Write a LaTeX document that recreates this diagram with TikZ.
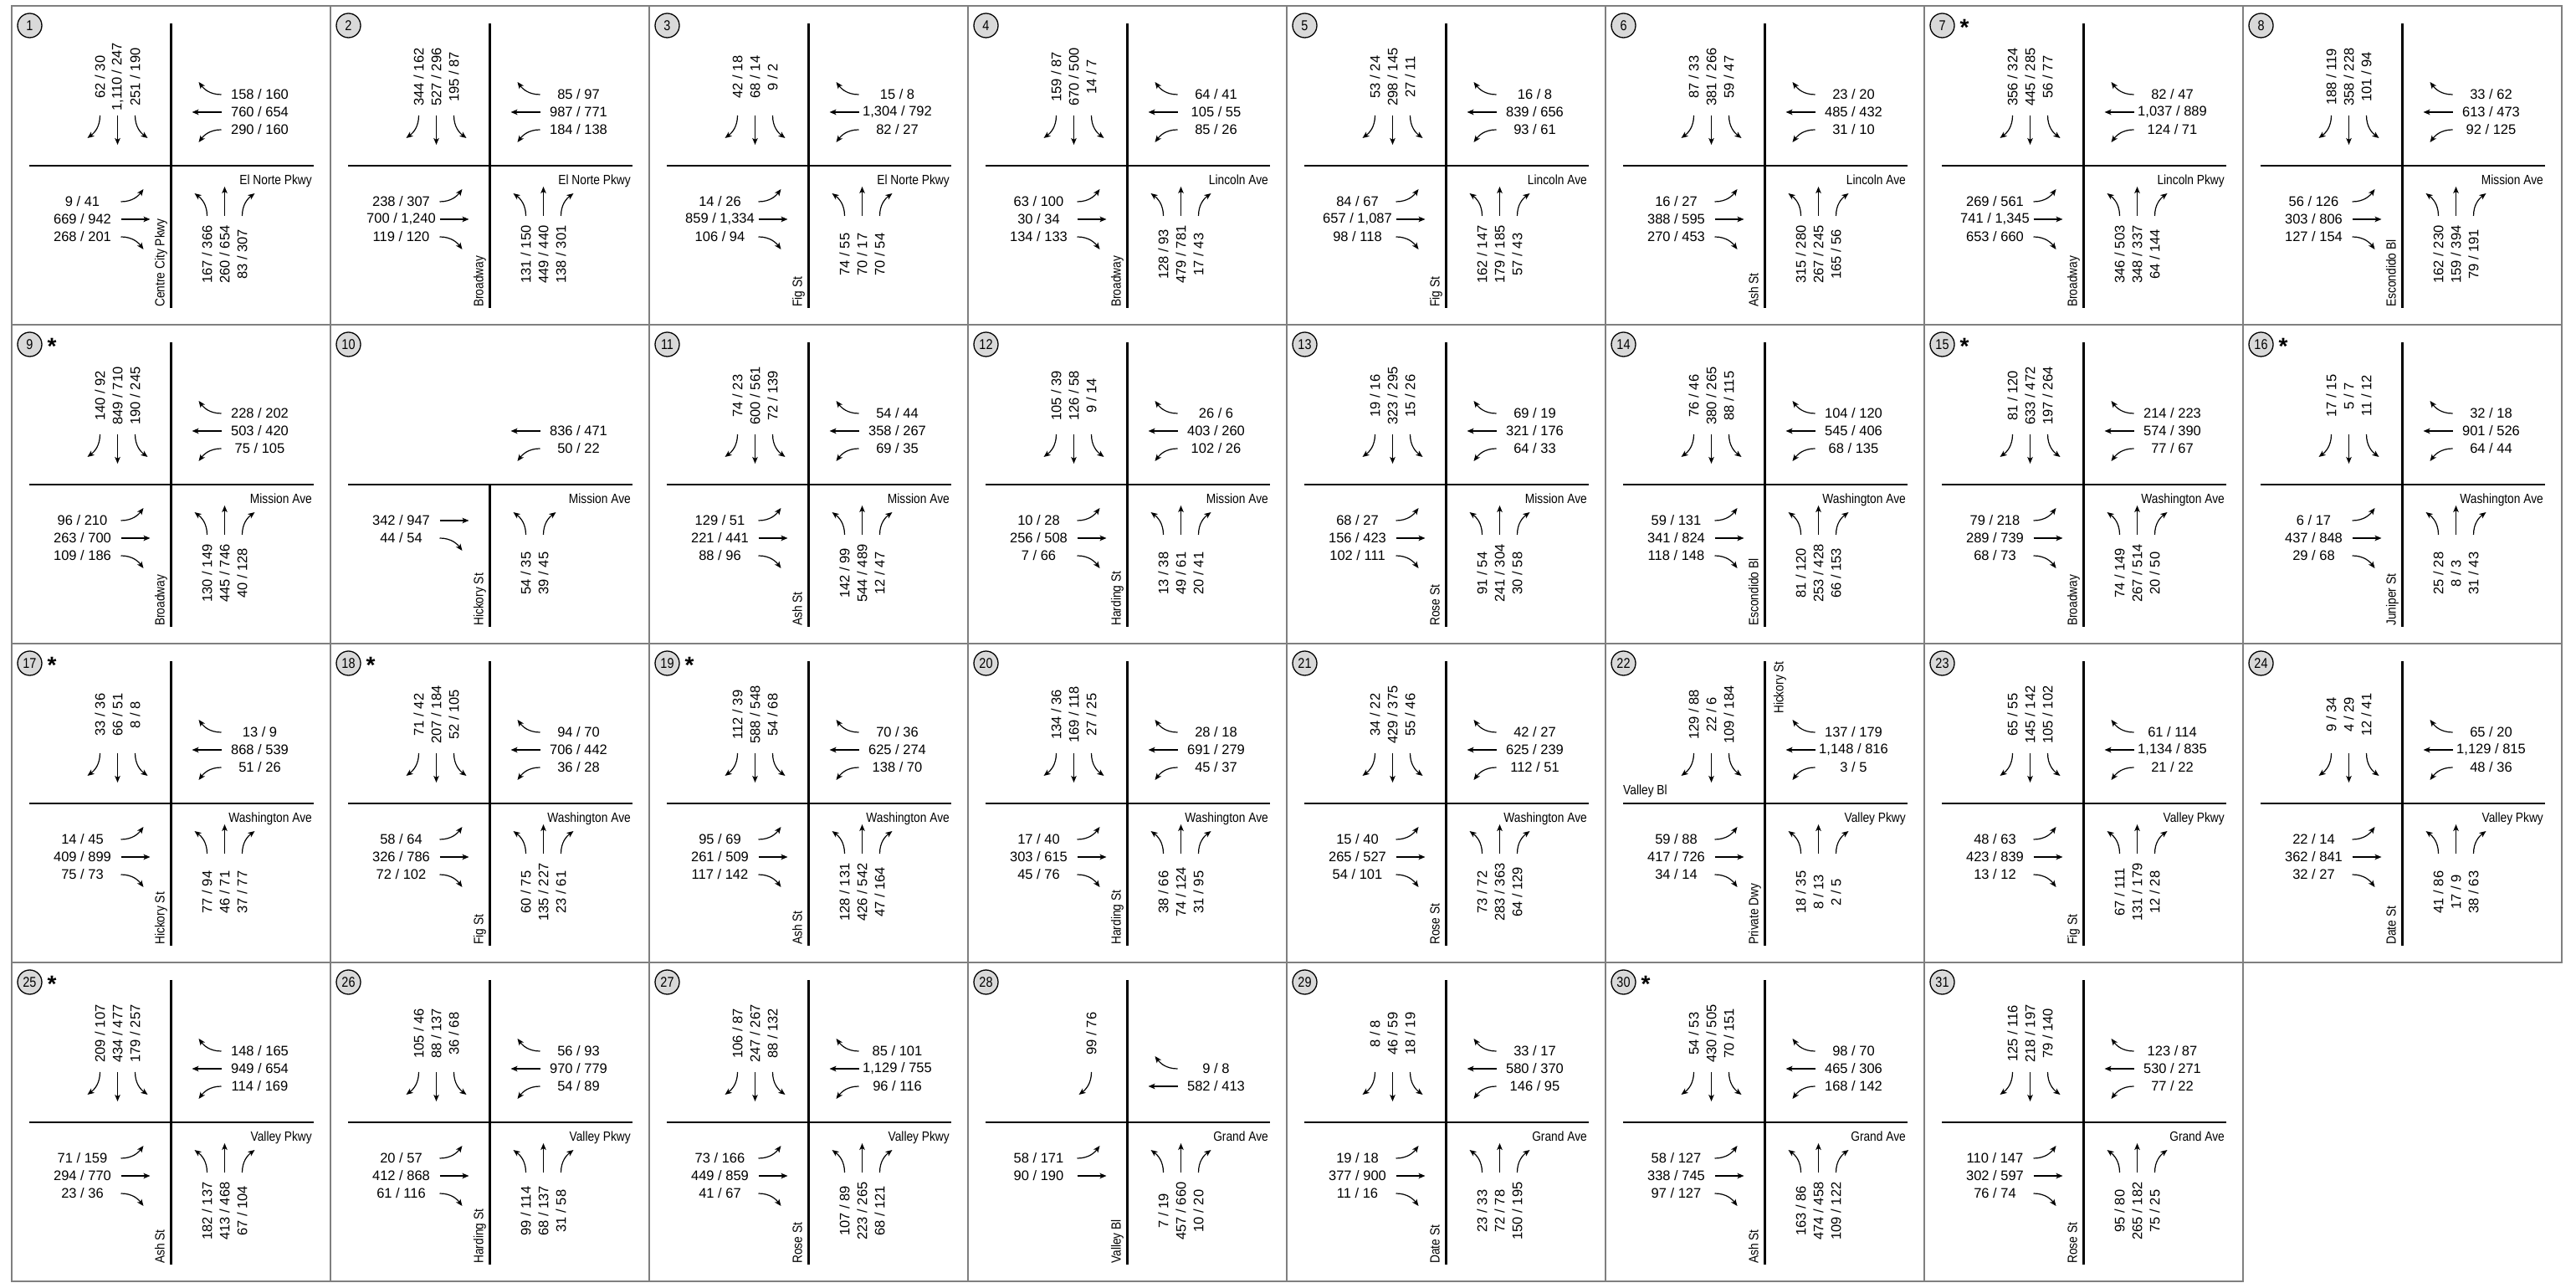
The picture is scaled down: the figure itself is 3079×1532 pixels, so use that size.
\documentclass[tikz,border=0pt]{standalone}
\usepackage{fontspec}
\setmainfont{Liberation Sans}
\newfontfamily\narrowfont[FakeStretch=0.86]{Liberation Sans}
\newfontfamily\circfont[FakeStretch=0.85]{Liberation Sans}
\usetikzlibrary{arrows.meta}
\definecolor{framegray}{HTML}{7F7F7F}
\definecolor{circfill}{HTML}{D9D9D9}
\tikzset{
  frame/.style={draw=framegray, line width=1.8pt},
  road/.style={line width=2.6pt, line cap=butt},
  mv/.style={line width=1.2pt, -{Stealth[length=8pt,width=6.5pt,inset=2pt]}},
  vol/.style={inner sep=0pt, font=\fontsize{16.5}{20}\selectfont},
  street/.style={inner sep=0pt, font=\narrowfont\fontsize{16}{19}\selectfont},
  idcirc/.style={circle, draw, line width=1.3pt, fill=circfill, minimum size=29pt, inner sep=0pt, font=\circfont\fontsize{17}{20}\selectfont},
  starmark/.style={inner sep=0pt, anchor=north, font=\bfseries\fontsize{28}{30}\selectfont},
}
% panel frame, id circle, centre coordinate
\newcommand\Pnl[3]{%
  \def\pn{#3}%
  \pgfmathsetmacro\pl{14+381*#1}%
  \pgfmathsetmacro\ptp{1525-381*#2}%
  \draw[frame] (\pl,\ptp) rectangle ++(381,-381);
  \node[idcirc] (p#3id) at (\pl+21.5,\ptp-23.5) {#3};
  \coordinate (p#3c) at (\pl+190.5,\ptp-191);
}
\newcommand\Star{\node[starmark] (p\pn star) at (\pl+48,\ptp-16) {*};}
\newcommand\Open[3]{\Pnl{#1}{#2}{#3}\begin{scope}[shift={(p#3c)}]}
\newcommand\Close{\end{scope}}
% roads
\newcommand\Xroads{\draw[road] (-169.5,0) -- (170.5,0); \draw[road] (0,170) -- (0,-170);}
\newcommand\Troads{\draw[road] (-169.5,0) -- (170.5,0); \draw[road] (0,0) -- (0,-170);}
% arrows, drawn for the southbound approach and rotated
\newcommand\arrT[2]{\draw[mv,rotate=#1] (-#2,60) -- (-#2,25);}
\newcommand\arrR[2]{\draw[mv,rotate=#1] (-#2,60) .. controls (-#2,46) and (-#2-7,39) .. (-#2-15,33);}
\newcommand\arrL[2]{\draw[mv,rotate=#1] (-#2,60) .. controls (-#2,46) and (-#2+7,39) .. (-#2+15,33);}
\def\rotS{0}\def\rotE{90}\def\rotN{180}\def\rotW{270}
% labels
\newcommand\labS[3]{\node[vol,rotate=90] (#3) at (-#1,106) {#2};}
\newcommand\labN[3]{\node[vol,rotate=90] (#3) at (#1,-106) {#2};}
\newcommand\labE[3]{\node[vol] (#3) at (-106,-#1) {#2};}
\newcommand\labW[3]{\node[vol] (#3) at (106,#1) {#2};}
% movement: approach, lane, type, text
\newcommand\Mv[4]{%
  \pgfmathsetmacro\off{22+21*#2}%
  \edef\rt{\csname rot#1\endcsname}%
  \csname arr#3\endcsname{\rt}{\off}%
  \csname lab#1\endcsname{\off}{#4}{p\pn#1#3}%
}
\newcommand\SB[3]{\Mv S3R{#1}\Mv S2T{#2}\Mv S1L{#3}}
\newcommand\WB[3]{\Mv W3R{#1}\Mv W2T{#2}\Mv W1L{#3}}
\newcommand\EB[3]{\Mv E1L{#1}\Mv E2T{#2}\Mv E3R{#3}}
\newcommand\NB[3]{\Mv N1L{#1}\Mv N2T{#2}\Mv N3R{#3}}
\newcommand\Names[2]{%
  \node[street,anchor=base east] (p\pn ew) at (168.5,-23) {#1};
  \node[street,anchor=base west,rotate=90] (p\pn ns) at (-8,-169) {#2};}
\begin{document}
\begin{tikzpicture}[x=1pt,y=1pt]
\useasboundingbox (0,0) rectangle (3079,1532);
\fill[white] (0,0) rectangle (3079,1532);
% ---------- row 1
\Open{0}{0}{1}\Xroads
 \SB{62 / 30}{1,110 / 247}{251 / 190}\WB{158 / 160}{760 / 654}{290 / 160}
 \EB{9 / 41}{669 / 942}{268 / 201}\NB{167 / 366}{260 / 654}{83 / 307}
 \Names{El Norte Pkwy}{Centre City Pkwy}\Close
\Open{1}{0}{2}\Xroads
 \SB{344 / 162}{527 / 296}{195 / 87}\WB{85 / 97}{987 / 771}{184 / 138}
 \EB{238 / 307}{700 / 1,240}{119 / 120}\NB{131 / 150}{449 / 440}{138 / 301}
 \Names{El Norte Pkwy}{Broadway}\Close
\Open{2}{0}{3}\Xroads
 \SB{42 / 18}{68 / 14}{9 / 2}\WB{15 / 8}{1,304 / 792}{82 / 27}
 \EB{14 / 26}{859 / 1,334}{106 / 94}\NB{74 / 55}{70 / 17}{70 / 54}
 \Names{El Norte Pkwy}{Fig St}\Close
\Open{3}{0}{4}\Xroads
 \SB{159 / 87}{670 / 500}{14 / 7}\WB{64 / 41}{105 / 55}{85 / 26}
 \EB{63 / 100}{30 / 34}{134 / 133}\NB{128 / 93}{479 / 781}{17 / 43}
 \Names{Lincoln Ave}{Broadway}\Close
\Open{4}{0}{5}\Xroads
 \SB{53 / 24}{298 / 145}{27 / 11}\WB{16 / 8}{839 / 656}{93 / 61}
 \EB{84 / 67}{657 / 1,087}{98 / 118}\NB{162 / 147}{179 / 185}{57 / 43}
 \Names{Lincoln Ave}{Fig St}\Close
\Open{5}{0}{6}\Xroads
 \SB{87 / 33}{381 / 266}{59 / 47}\WB{23 / 20}{485 / 432}{31 / 10}
 \EB{16 / 27}{388 / 595}{270 / 453}\NB{315 / 280}{267 / 245}{165 / 56}
 \Names{Lincoln Ave}{Ash St}\Close
\Open{6}{0}{7}\Xroads
 \SB{356 / 324}{445 / 285}{56 / 77}\WB{82 / 47}{1,037 / 889}{124 / 71}
 \EB{269 / 561}{741 / 1,345}{653 / 660}\NB{346 / 503}{348 / 337}{64 / 144}
 \Names{Lincoln Pkwy}{Broadway}\Close\Star
\Open{7}{0}{8}\Xroads
 \SB{188 / 119}{358 / 228}{101 / 94}\WB{33 / 62}{613 / 473}{92 / 125}
 \EB{56 / 126}{303 / 806}{127 / 154}\NB{162 / 230}{159 / 394}{79 / 191}
 \Names{Mission Ave}{Escondido Bl}\Close
% ---------- row 2
\Open{0}{1}{9}\Xroads
 \SB{140 / 92}{849 / 710}{190 / 245}\WB{228 / 202}{503 / 420}{75 / 105}
 \EB{96 / 210}{263 / 700}{109 / 186}\NB{130 / 149}{445 / 746}{40 / 128}
 \Names{Mission Ave}{Broadway}\Close\Star
\Open{1}{1}{10}\Troads
 \Mv W2T{836 / 471}\Mv W1L{50 / 22}
 \Mv E1T{342 / 947}\Mv E2R{44 / 54}
 \Mv N1L{54 / 35}\Mv N2R{39 / 45}
 \Names{Mission Ave}{Hickory St}\Close
\Open{2}{1}{11}\Xroads
 \SB{74 / 23}{600 / 561}{72 / 139}\WB{54 / 44}{358 / 267}{69 / 35}
 \EB{129 / 51}{221 / 441}{88 / 96}\NB{142 / 99}{544 / 489}{12 / 47}
 \Names{Mission Ave}{Ash St}\Close
\Open{3}{1}{12}\Xroads
 \SB{105 / 39}{126 / 58}{9 / 14}\WB{26 / 6}{403 / 260}{102 / 26}
 \EB{10 / 28}{256 / 508}{7 / 66}\NB{13 / 38}{49 / 61}{20 / 41}
 \Names{Mission Ave}{Harding St}\Close
\Open{4}{1}{13}\Xroads
 \SB{19 / 16}{323 / 295}{15 / 26}\WB{69 / 19}{321 / 176}{64 / 33}
 \EB{68 / 27}{156 / 423}{102 / 111}\NB{91 / 54}{241 / 304}{30 / 58}
 \Names{Mission Ave}{Rose St}\Close
\Open{5}{1}{14}\Xroads
 \SB{76 / 46}{380 / 265}{88 / 115}\WB{104 / 120}{545 / 406}{68 / 135}
 \EB{59 / 131}{341 / 824}{118 / 148}\NB{81 / 120}{253 / 428}{66 / 153}
 \Names{Washington Ave}{Escondido Bl}\Close
\Open{6}{1}{15}\Xroads
 \SB{81 / 120}{633 / 472}{197 / 264}\WB{214 / 223}{574 / 390}{77 / 67}
 \EB{79 / 218}{289 / 739}{68 / 73}\NB{74 / 149}{267 / 514}{20 / 50}
 \Names{Washington Ave}{Broadway}\Close\Star
\Open{7}{1}{16}\Xroads
 \SB{17 / 15}{5 / 7}{11 / 12}\WB{32 / 18}{901 / 526}{64 / 44}
 \EB{6 / 17}{437 / 848}{29 / 68}\NB{25 / 28}{8 / 3}{31 / 43}
 \Names{Washington Ave}{Juniper St}\Close\Star
% ---------- row 3
\Open{0}{2}{17}\Xroads
 \SB{33 / 36}{66 / 51}{8 / 8}\WB{13 / 9}{868 / 539}{51 / 26}
 \EB{14 / 45}{409 / 899}{75 / 73}\NB{77 / 94}{46 / 71}{37 / 77}
 \Names{Washington Ave}{Hickory St}\Close\Star
\Open{1}{2}{18}\Xroads
 \SB{71 / 42}{207 / 184}{52 / 105}\WB{94 / 70}{706 / 442}{36 / 28}
 \EB{58 / 64}{326 / 786}{72 / 102}\NB{60 / 75}{135 / 227}{23 / 61}
 \Names{Washington Ave}{Fig St}\Close\Star
\Open{2}{2}{19}\Xroads
 \SB{112 / 39}{588 / 548}{54 / 68}\WB{70 / 36}{625 / 274}{138 / 70}
 \EB{95 / 69}{261 / 509}{117 / 142}\NB{128 / 131}{426 / 542}{47 / 164}
 \Names{Washington Ave}{Ash St}\Close\Star
\Open{3}{2}{20}\Xroads
 \SB{134 / 36}{169 / 118}{27 / 25}\WB{28 / 18}{691 / 279}{45 / 37}
 \EB{17 / 40}{303 / 615}{45 / 76}\NB{38 / 66}{74 / 124}{31 / 95}
 \Names{Washington Ave}{Harding St}\Close
\Open{4}{2}{21}\Xroads
 \SB{34 / 22}{429 / 375}{55 / 46}\WB{42 / 27}{625 / 239}{112 / 51}
 \EB{15 / 40}{265 / 527}{54 / 101}\NB{73 / 72}{283 / 363}{64 / 129}
 \Names{Washington Ave}{Rose St}\Close
\Open{5}{2}{22}\Xroads
 \SB{129 / 88}{22 / 6}{109 / 184}\WB{137 / 179}{1,148 / 816}{3 / 5}
 \EB{59 / 88}{417 / 726}{34 / 14}\NB{18 / 35}{8 / 13}{2 / 5}
 \Names{Valley Pkwy}{Private Dwy}
 \node[street,anchor=base east,rotate=90] (p22nn) at (22,170) {Hickory St};
 \node[street,anchor=base west] (p22wn) at (-169.5,10) {Valley Bl};\Close
\Open{6}{2}{23}\Xroads
 \SB{65 / 55}{145 / 142}{105 / 102}\WB{61 / 114}{1,134 / 835}{21 / 22}
 \EB{48 / 63}{423 / 839}{13 / 12}\NB{67 / 111}{131 / 179}{12 / 28}
 \Names{Valley Pkwy}{Fig St}\Close
\Open{7}{2}{24}\Xroads
 \SB{9 / 34}{4 / 29}{12 / 41}\WB{65 / 20}{1,129 / 815}{48 / 36}
 \EB{22 / 14}{362 / 841}{32 / 27}\NB{41 / 86}{17 / 9}{38 / 63}
 \Names{Valley Pkwy}{Date St}\Close
% ---------- row 4
\Open{0}{3}{25}\Xroads
 \SB{209 / 107}{434 / 477}{179 / 257}\WB{148 / 165}{949 / 654}{114 / 169}
 \EB{71 / 159}{294 / 770}{23 / 36}\NB{182 / 137}{413 / 468}{67 / 104}
 \Names{Valley Pkwy}{Ash St}\Close\Star
\Open{1}{3}{26}\Xroads
 \SB{105 / 46}{88 / 137}{36 / 68}\WB{56 / 93}{970 / 779}{54 / 89}
 \EB{20 / 57}{412 / 868}{61 / 116}\NB{99 / 114}{68 / 137}{31 / 58}
 \Names{Valley Pkwy}{Harding St}\Close
\Open{2}{3}{27}\Xroads
 \SB{106 / 87}{247 / 267}{88 / 132}\WB{85 / 101}{1,129 / 755}{96 / 116}
 \EB{73 / 166}{449 / 859}{41 / 67}\NB{107 / 89}{223 / 265}{68 / 121}
 \Names{Valley Pkwy}{Rose St}\Close
\Open{3}{3}{28}\Xroads
 \Mv S1R{99 / 76}
 \Mv W2R{9 / 8}\Mv W1T{582 / 413}
 \Mv E1L{58 / 171}\Mv E2T{90 / 190}
 \NB{7 / 19}{457 / 660}{10 / 20}
 \Names{Grand Ave}{Valley Bl}\Close
\Open{4}{3}{29}\Xroads
 \SB{8 / 8}{46 / 59}{18 / 19}\WB{33 / 17}{580 / 370}{146 / 95}
 \EB{19 / 18}{377 / 900}{11 / 16}\NB{23 / 33}{72 / 78}{150 / 195}
 \Names{Grand Ave}{Date St}\Close
\Open{5}{3}{30}\Xroads
 \SB{54 / 53}{430 / 505}{70 / 151}\WB{98 / 70}{465 / 306}{168 / 142}
 \EB{58 / 127}{338 / 745}{97 / 127}\NB{163 / 86}{474 / 458}{109 / 122}
 \Names{Grand Ave}{Ash St}\Close\Star
\Open{6}{3}{31}\Xroads
 \SB{125 / 116}{218 / 197}{79 / 140}\WB{123 / 87}{530 / 271}{77 / 22}
 \EB{110 / 147}{302 / 597}{76 / 74}\NB{95 / 80}{265 / 182}{75 / 25}
 \Names{Grand Ave}{Rose St}\Close
\end{tikzpicture}
\end{document}
